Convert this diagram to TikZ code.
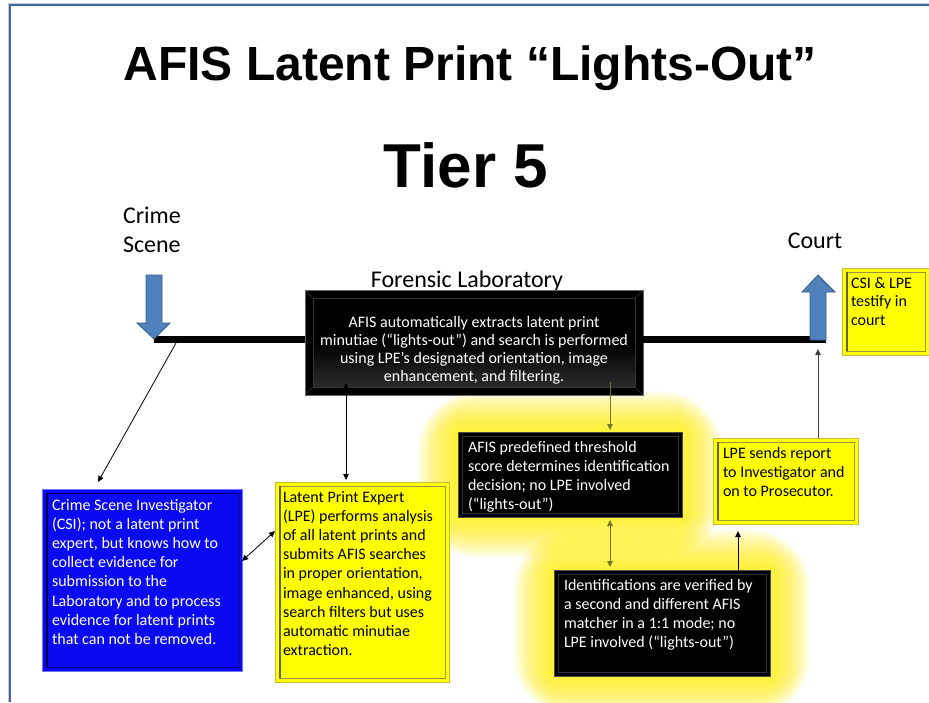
\documentclass[tikz,border=0pt]{standalone}
\usepackage{fontspec}
\setmainfont{Carlito}
\newfontfamily\arialfont{Liberation Sans}
\usetikzlibrary{arrows.meta,backgrounds,calc}
\definecolor{bordercol}{HTML}{41679B}
\definecolor{arrowblue}{HTML}{4F81BD}
\definecolor{arrowbluedark}{HTML}{385D8A}
\definecolor{boxblue}{HTML}{0A0AF2}
\definecolor{boxyellow}{HTML}{FFFF00}
\definecolor{oliveline}{HTML}{77772A}
\definecolor{greyline}{HTML}{404040}
\newcommand{\mytxt}[2]{\parbox[t]{#1}{\fontsize{16}{19.2}\selectfont\raggedright #2}}
\begin{document}
\begin{tikzpicture}[x=1pt,y=-1pt,
  every node/.style={inner sep=0pt, outer sep=0pt},
  arr/.style={-{Triangle[length=6pt,width=5.5pt]}, line width=0.8pt},
  arrtwo/.style={{Triangle[length=6pt,width=5.5pt]}-{Triangle[length=6pt,width=5.5pt]}, line width=0.8pt},
  yellowbox/.style={fill=boxyellow, draw=yellow!75!black, line width=0.8pt,
    path picture={
      \draw[yellow!55!black, line width=0.7pt] ([shift={(4pt,-4pt)}]path picture bounding box.north west) rectangle ([shift={(-4pt,4pt)}]path picture bounding box.south east);
      \draw[black!70!yellow, line width=2pt] ([shift={(5pt,-4pt)}]path picture bounding box.north west) -- ([shift={(5pt,4pt)}]path picture bounding box.south west);
    }},
  bluebox/.style={fill=boxblue, draw=blue!55!white, line width=0.8pt,
    path picture={
      \draw[blue!50!black, line width=0.7pt] ([shift={(4pt,-4pt)}]path picture bounding box.north west) rectangle ([shift={(-4pt,4pt)}]path picture bounding box.south east);
      \draw[blue!25!black, line width=2pt] ([shift={(5pt,-4pt)}]path picture bounding box.north west) -- ([shift={(5pt,4pt)}]path picture bounding box.south west);
    }},
  blackbox/.style={fill=black, draw=black!70, line width=0.8pt,
    path picture={
      \draw[black!80, line width=0.7pt] ([shift={(4pt,-4pt)}]path picture bounding box.north west) rectangle ([shift={(-4pt,4pt)}]path picture bounding box.south east);
    }},
  labbox/.style={fill=black, draw=black!60, line width=0.8pt,
    path picture={
      \shade[top color=black, bottom color=black!80, middle color=black] ([shift={(8pt,-8pt)}]path picture bounding box.north west) rectangle ([shift={(-8pt,8pt)}]path picture bounding box.south east);
      \draw[black!80, line width=0.6pt] ([shift={(8pt,-8pt)}]path picture bounding box.north west) rectangle ([shift={(-8pt,8pt)}]path picture bounding box.south east);
      \draw[black!80, line width=0.6pt] (path picture bounding box.north west) -- ([shift={(8pt,-8pt)}]path picture bounding box.north west);
      \draw[black!80, line width=0.6pt] (path picture bounding box.north east) -- ([shift={(-8pt,-8pt)}]path picture bounding box.north east);
      \draw[black!80, line width=0.6pt] (path picture bounding box.south west) -- ([shift={(8pt,8pt)}]path picture bounding box.south west);
      \draw[black!80, line width=0.6pt] (path picture bounding box.south east) -- ([shift={(-8pt,8pt)}]path picture bounding box.south east);
    }}
]
\useasboundingbox (0,0) rectangle (929,702);

% slide frame
\draw[bordercol!35, line width=1pt] (8,702) -- (8,3) -- (929,3);
\draw[bordercol, line width=2.2pt] (10,702) -- (10,5) -- (929,5);

% titles
\node[anchor=base] (title) at (470,80) {\fontsize{48}{56}\selectfont\arialfont\bfseries AFIS Latent Print “Lights-Out”};
\node[anchor=base] (tier) at (466,187) {\fontsize{62}{70}\selectfont\arialfont\bfseries Tier 5};

\node[anchor=base west] (crime) at (123,223) {\fontsize{24}{29}\selectfont Crime};
\node[anchor=base west] (scene) at (123,252) {\fontsize{24}{29}\selectfont Scene};
\node[anchor=base] (forensic) at (467,287) {\fontsize{24}{29}\selectfont Forensic Laboratory};
\node[anchor=base] (court) at (815,248) {\fontsize{24}{29}\selectfont Court};

% boxes
\node[labbox, minimum width=338pt, minimum height=105pt] (lab) at (474,342.5) {};
\node[bluebox, minimum width=200pt, minimum height=182pt] (csi) at (142,580) {};
\node[yellowbox, minimum width=174pt, minimum height=200pt] (lpe) at (362,582) {};
\node[blackbox, minimum width=224pt, minimum height=85pt] (pre) at (570,474.5) {};
\node[blackbox, minimum width=216pt, minimum height=106pt] (id) at (662,623) {};
\node[yellowbox, minimum width=145pt, minimum height=86pt] (rep) at (785.5,481) {};
\node[yellowbox, minimum width=87pt, minimum height=87pt] (cl) at (885.5,311.5) {};

% glow
\begin{scope}[on background layer]
\fill[white] (0,0) rectangle (929,702);
\clip (0,0) rectangle (929,702);
\foreach \n in {pre,id}{
  \foreach \i [evaluate=\i as \d using \i*1.7] in {1,...,24}{
    \fill[yellow, opacity=0.055, rounded corners=1.5*\d pt] ([shift={(-\d pt,\d pt)}]\n.north west) rectangle ([shift={(\d pt,-\d pt)}]\n.south east);
  }
}
\end{scope}

% box texts
\node[anchor=base, text=white] (labt) at (474,327) {\parbox[t]{336pt}{\centering\fontsize{16}{18.2}\selectfont AFIS automatically extracts latent print\\ minutiae (“lights-out”) and search is performed\\ using LPE’s designated orientation, image\\ enhancement, and filtering.}};
\node[anchor=base west, text=white] (csit) at (52,510) {\mytxt{188pt}{Crime Scene Investigator\\ (CSI); not a latent print\\ expert, but knows how to\\ collect evidence for\\ submission to the\\ Laboratory and to process\\ evidence for latent prints\\ that can not be removed.}};
\node[anchor=base west] (lpet) at (283,502) {\mytxt{164pt}{Latent Print Expert\\ (LPE) performs analysis\\ of all latent prints and\\ submits AFIS searches\\ in proper orientation,\\ image enhanced, using\\ search filters but uses\\ automatic minutiae\\ extraction.}};
\node[anchor=base west, text=white] (pret) at (468,452) {\mytxt{212pt}{AFIS predefined threshold\\ score determines identification\\ decision; no LPE involved\\ (“lights-out”)}};
\node[anchor=base west, text=white] (idt) at (564,590) {\mytxt{206pt}{Identifications are verified by\\ a second and different AFIS\\ matcher in a 1:1 mode; no\\ LPE involved (“lights-out”)}};
\node[anchor=base west] (rept) at (723,458) {\mytxt{134pt}{LPE sends report\\ to Investigator and\\ on to Prosecutor.}};
\node[anchor=base west] (clt) at (851,288) {\parbox[t]{76pt}{\fontsize{16}{18.7}\selectfont\raggedright CSI \& LPE\\ testify in\\ court}};

% main timeline
\coordinate (cstip) at (154,339);
\coordinate (courtfoot) at (826,339);
\draw[line width=7pt] (cstip) -- (cstip -| lab.west);
\draw[line width=7pt] (cstip -| lab.east) -- (courtfoot);

% block arrows
\fill[arrowblue, draw=arrowbluedark, line width=0.8pt] (146,275) -- (162,275) -- (162,323) -- (170,323) -- (cstip) -- (137,323) -- (146,323) -- cycle;
\fill[arrowblue, draw=arrowbluedark, line width=0.8pt] (810,340) -- (810,292) -- (802,292) -- (818,275) -- (835,292) -- (826,292) -- (826,340) -- cycle;

% connectors
\coordinate (csisrc) at (176,343);
\coordinate (csitarget) at ([xshift=-44pt,yshift=7pt]csi.north);
\draw[arr] (csisrc) -- (csitarget);
\draw[arrtwo] ([yshift=19pt]csi.east) -- ([yshift=51pt]lpe.west);
\coordinate (labin) at (346,383);
\draw[arrtwo, shorten >=2pt] (labin) -- (labin |- lpe.north);
\coordinate (labout) at (610,382);
\draw[arr, oliveline, shorten >=2pt] (labout) -- (labout |- pre.north);
\draw[arrtwo, oliveline, shorten >=3pt, shorten <=3pt] ([xshift=40pt]pre.south) -- ([xshift=40pt]pre.south |- id.north);
\draw[arr, shorten >=7pt] ([xshift=76pt]id.north) -- ([xshift=76pt]id.north |- rep.south);
\coordinate (linebot) at (818,349);
\draw[arr, greyline] ([xshift=32.5pt]rep.north) -- (linebot);
\end{tikzpicture}
\end{document}
